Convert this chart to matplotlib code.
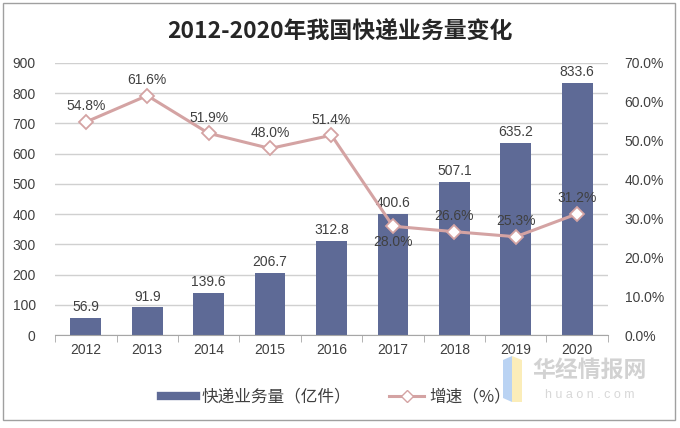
import matplotlib
matplotlib.use("Agg")
import matplotlib.pyplot as plt
from matplotlib.patches import Rectangle, Polygon
from matplotlib.lines import Line2D
import numpy as np

plt.rcParams['font.family'] = ['Liberation Sans', 'Noto Sans CJK SC', 'DejaVu Sans']

years = ['2012', '2013', '2014', '2015', '2016', '2017', '2018', '2019', '2020']
volume = [56.9, 91.9, 139.6, 206.7, 312.8, 400.6, 507.1, 635.2, 833.6]
growth = [54.8, 61.6, 51.9, 48.0, 51.4, 28.0, 26.6, 25.3, 31.2]

bar_color = '#5E6A96'
line_color = '#D4A3A3'
text_color = '#404040'

W, H = 680, 428
fig = plt.figure(figsize=(6.8, 4.28), dpi=100)
ax = fig.add_axes([0.081, 0.217, 0.813, 0.636])
x = np.arange(len(years))
ax.bar(x, volume, width=0.5, color=bar_color, zorder=2)
ax.set_ylim(0, 900)
ax.set_xlim(-0.5, len(years) - 0.5)
ax.set_yticks(range(0, 901, 100))
ax.yaxis.grid(True, color='#D0D0D0', linewidth=1, zorder=0)
ax.set_axisbelow(True)
for s in ['top', 'right', 'left']:
    ax.spines[s].set_visible(False)
ax.spines['bottom'].set_color('#A6A6A6')
ax.tick_params(axis='y', length=0, labelsize=10, labelcolor=text_color, pad=14)
ax.set_xticks(x)
ax.set_xticklabels(years)
ax.tick_params(axis='x', length=0, labelsize=10, labelcolor=text_color, pad=6)
ax.set_xticks(np.arange(-0.5, len(years), 1), minor=True)
ax.tick_params(axis='x', which='minor', length=5, color='#A6A6A6')

for xi, v in zip(x, volume):
    ax.text(xi, v + 12, f'{v:.1f}', ha='center', va='bottom', fontsize=10, color=text_color, zorder=5)

ax2 = ax.twinx()
ax2.set_ylim(0, 70)
ax2.set_yticks(range(0, 71, 10))
ax2.set_yticklabels([f'{t:.1f}%' for t in range(0, 71, 10)])
ax2.tick_params(axis='y', length=0, labelsize=10, labelcolor=text_color, pad=12)
for s in ['top', 'right', 'left', 'bottom']:
    ax2.spines[s].set_visible(False)
ax2.plot(x, growth, color=line_color, linewidth=2.2, marker='D', markersize=7,
         markerfacecolor='white', markeredgecolor=line_color, markeredgewidth=1.3, zorder=4)
for i, (xi, g) in enumerate(zip(x, growth)):
    if years[i] == '2017':
        ax2.text(xi, g - 2.2, f'{g:.1f}%', ha='center', va='top', fontsize=10, color=text_color, zorder=5)
    else:
        ax2.text(xi, g + 2.2, f'{g:.1f}%', ha='center', va='bottom', fontsize=10, color=text_color, zorder=5)

fig.text(0.5, 0.925, '2012-2020年我国快递业务量变化', ha='center', va='center',
         fontsize=16.5, fontweight='bold', color='#262626',
         family=['Noto Sans CJK SC', 'DejaVu Sans'])

handles = [Line2D([0], [0], color=bar_color, linewidth=6),
           Line2D([0], [0], color=line_color, linewidth=2.2, marker='D', markersize=6,
                  markerfacecolor='white', markeredgecolor=line_color)]
fig.legend(handles, ['快递业务量（亿件）', '增速（%）'], loc='center', bbox_to_anchor=(0.494, 0.072),
           ncol=2, frameon=False, handlelength=2.1, columnspacing=2.3, handletextpad=0.3,
           prop={'family': ['Noto Sans CJK SC', 'DejaVu Sans'], 'size': 12}, labelcolor=text_color)

# watermark
fig.patches.append(Polygon([(503 / W, 1 - 360 / H), (512 / W, 1 - 356 / H), (512 / W, 1 - 402 / H), (503 / W, 1 - 398 / H)],
                           closed=True, transform=fig.transFigure, facecolor='#A9C8F0', edgecolor='none', alpha=0.8))
fig.patches.append(Polygon([(512 / W, 1 - 356 / H), (522 / W, 1 - 360 / H), (522 / W, 1 - 402 / H), (512 / W, 1 - 402 / H)],
                           closed=True, transform=fig.transFigure, facecolor='#FBE9A8', edgecolor='none', alpha=0.8))
fig.text(590 / W, 1 - 370 / H, '华经情报网', fontsize=16.5, fontweight='bold', color='#D2D2D2',
         family=['Noto Sans CJK SC', 'DejaVu Sans'], ha='center', va='center')
fig.text(590 / W, 1 - 395 / H, 'h u a o n . c o m', fontsize=9, color='#D8D8D8', ha='center', va='center')

fig.patches.append(Rectangle((3 / W, 1 - 420 / H), 672 / W, 417 / H, transform=fig.transFigure,
                             fill=False, edgecolor='#A0A0A0', linewidth=1))

fig.savefig('out.png', dpi=100)
